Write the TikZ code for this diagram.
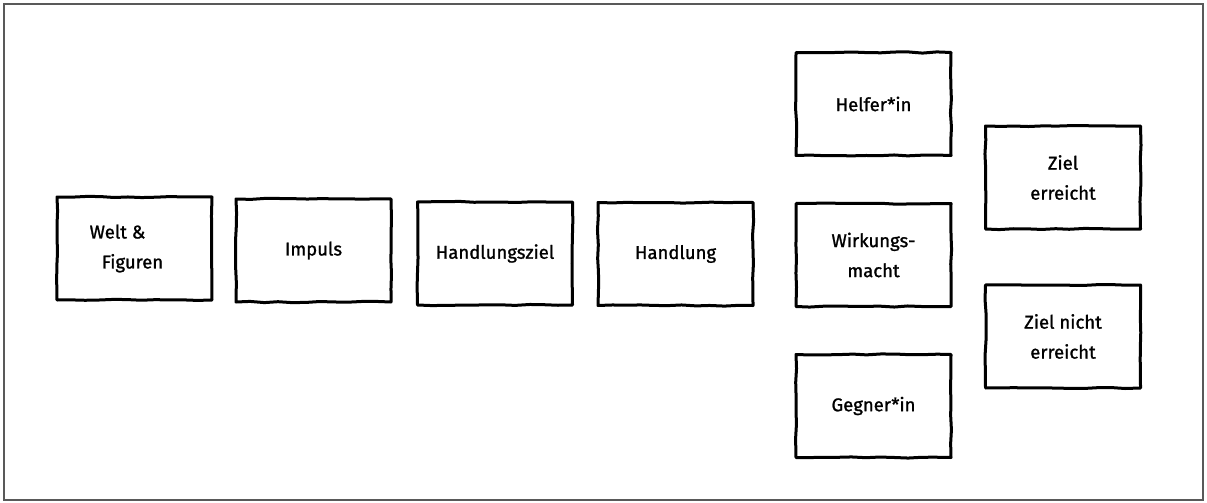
\documentclass[tikz,border=0pt]{standalone}
\usepackage{fontspec}
\newfontfamily\boxfont{Fira Sans}[FakeBold=1.2]
\usetikzlibrary{decorations.pathmorphing}
\begin{document}
\begin{tikzpicture}[x=1pt,y=-1pt,
  stepbox/.style={draw=black, line width=3pt, line join=round, minimum width=155pt, minimum height=103pt,
    inner sep=0pt, align=center, font=\boxfont\fontsize{18.5}{30}\selectfont,
    decorate, decoration={random steps, segment length=14pt, amplitude=0.6pt}},
  frame/.style={draw=black!65, line width=1.5pt}]
\pgfmathsetseed{7}
\useasboundingbox (0,0) rectangle (1207,503);
\draw[frame] (4,4) rectangle (1203,500);
\node[stepbox] (welt) at (134.5,248.5) {\hspace*{-34pt}Welt \&\\\hspace*{-4pt}Figuren};
\node[stepbox] (impuls) at (313.5,250.5) {Impuls};
\node[stepbox] (hziel) at (495,253.5) {Handlungsziel};
\node[stepbox] (handlung) at (675.5,254) {Handlung};
\node[stepbox] (helfer) at (873.5,104) {Helfer*in};
\node[stepbox] (wirkung) at (873.5,255) {Wirkungs-\\macht};
\node[stepbox] (gegner) at (873.5,406) {Gegner*in};
\node[stepbox] (erreicht) at (1063,177.5) {Ziel\\erreicht};
\node[stepbox] (nicht) at (1063,336.5) {Ziel nicht\\erreicht};
\end{tikzpicture}
\end{document}
